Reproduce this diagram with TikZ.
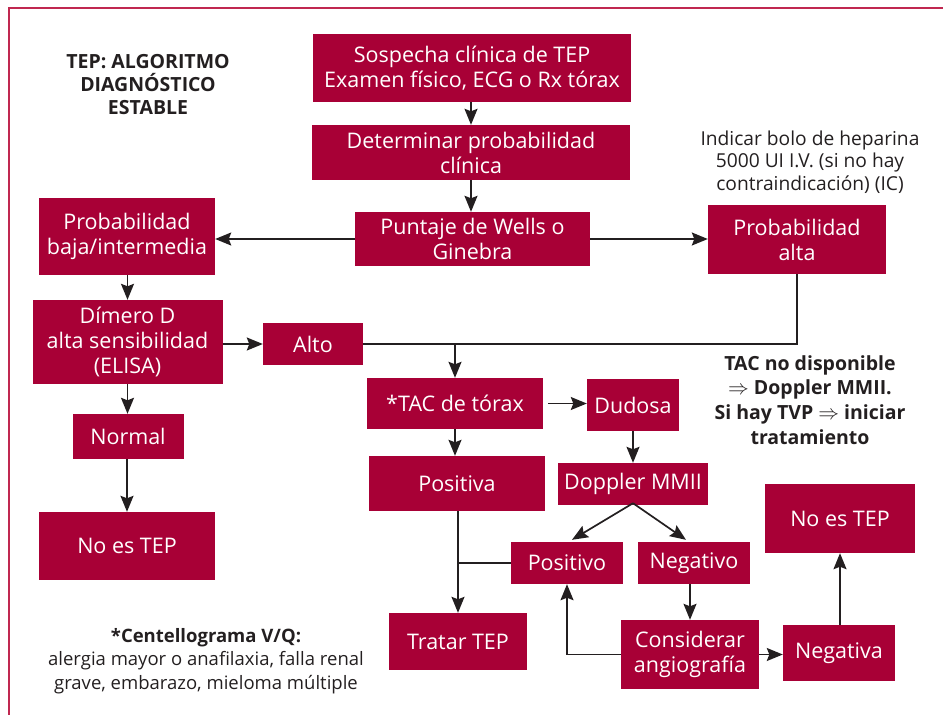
\documentclass[tikz,border=0pt]{standalone}
\usepackage{fontspec}
\setmainfont{Open Sans}
\usepackage{xcolor}
\usetikzlibrary{arrows.meta}

\definecolor{tepred}{RGB}{168,0,54}
\definecolor{tepframe}{RGB}{192,40,80}
\definecolor{tepink}{RGB}{35,31,32}

\newcommand{\boxfont}{\fontsize{21.5}{25}\selectfont}
\newcommand{\notefont}{\fontsize{19.2}{22.5}\selectfont}

\begin{document}
\begin{tikzpicture}[x=1pt, y=-1pt]
    \tikzstyle{stepbox} = [rectangle, fill=tepred, text=white, align=center, inner sep=0pt, font=\boxfont]
    \tikzstyle{note} = [align=center, text=tepink, font=\notefont]
    \tikzstyle{arrow} = [line width=1.7pt, draw=tepink, -{Stealth[length=16pt, width=13pt, inset=2.5pt]}]
    \tikzstyle{link} = [line width=1.7pt, draw=tepink]

    \useasboundingbox (0,0) rectangle (943,715);
    \draw [line width=2pt, tepframe] (9,715) -- (9,8) -- (943,8);

    % textos sueltos
    \node (titulo) [note, font=\fontsize{19.5}{23}\selectfont\bfseries] at (148,85) {TEP: ALGORITMO\\DIAGNÓSTICO\\ESTABLE};
    \node (bolo) [note] at (810,162) {Indicar bolo de heparina\\5000 UI I.V. (si no hay\\contraindicación) (IC)};
    \node (sintac) [note, font=\fontsize{19.5}{24.7}\selectfont\bfseries] at (810,400) {TAC no disponible\\$\Rightarrow$ Doppler MMII.\\Si hay TVP $\Rightarrow$ iniciar\\tratamiento};
    \node (centello) [note, font=\fontsize{18.5}{23.5}\selectfont] at (206,661) {\textbf{*Centellograma V/Q:}\\alergia mayor o anafilaxia, falla renal\\grave, embarazo, mieloma múltiple};

    % cajas
    \node (sospecha) [stepbox, minimum width=318pt, minimum height=68pt] at (472,68) {Sospecha clínica de TEP\\Examen físico, ECG o Rx tórax};
    \node (determinar) [stepbox, minimum width=318pt, minimum height=55pt] at (471,152.5) {Determinar probabilidad\\clínica};
    \node (puntaje) [stepbox, minimum width=235pt, minimum height=54pt] at (472.5,239) {Puntaje de Wells o\\Ginebra};
    \node (baja) [stepbox, minimum width=176pt, minimum height=77pt] at (127,236.5) {Probabilidad\\baja/intermedia};
    \node (alta) [stepbox, minimum width=178pt, minimum height=69pt] at (797,239.5) {Probabilidad\\alta};
    \node (dimero) [stepbox, minimum width=190pt, minimum height=84pt] at (127.5,342) {Dímero D\\alta sensibilidad\\(ELISA)};
    \node (alto) [stepbox, minimum width=100pt, minimum height=42pt] at (313,344) {Alto};
    \node (tac) [stepbox, minimum width=176pt, minimum height=51pt] at (455,403.5) {*TAC de tórax};
    \node (dudosa) [stepbox, minimum width=92pt, minimum height=52pt] at (633,405) {Dudosa};
    \node (normal) [stepbox, minimum width=111pt, minimum height=45pt] at (128,436.5) {Normal};
    \node (positiva) [stepbox, minimum width=176pt, minimum height=55pt] at (457,483.5) {Positiva};
    \node (doppler) [stepbox, minimum width=150pt, minimum height=42pt] at (633,484) {Doppler MMII};
    \node (noes) [stepbox, minimum width=176pt, minimum height=68pt] at (127,546) {No es TEP};
    \node (noesdos) [stepbox, minimum width=150pt, minimum height=69pt] at (840,518.5) {No es TEP};
    \node (positivo) [stepbox, minimum width=112pt, minimum height=42pt] at (567,563) {Positivo};
    \node (negativo) [stepbox, minimum width=112pt, minimum height=42pt] at (694,563) {Negativo};
    \node (tratar) [stepbox, minimum width=138pt, minimum height=57pt] at (458,641.5) {Tratar TEP};
    \node (considerar) [stepbox, minimum width=138pt, minimum height=69pt] at (690,654.5) {Considerar\\angiografía};
    \node (negativa) [stepbox, minimum width=112pt, minimum height=56pt] at (839,653) {Negativa};

    % flechas
    \draw [arrow] (sospecha.south -| determinar.north) -- (determinar.north);
    \draw [arrow] (determinar.south) -- (determinar.south |- puntaje.north);
    \draw [arrow] (puntaje.west) -- (puntaje.west -| baja.east);
    \draw [arrow] (puntaje.east) -- (puntaje.east -| alta.west);
    \draw [arrow] (baja.south -| dimero.north) -- (dimero.north);
    \draw [arrow] (dimero.east |- alto.west) -- (alto.west);
    \draw [link] (alto.east) -| (alta.south);
    \coordinate (cruce) at (tac.north |- alto.east);
    \draw [arrow] (cruce) -- (tac.north);
    \draw [arrow] (dimero.south) -- (dimero.south |- normal.north);
    \draw [arrow] (normal.south -| noes.north) -- (noes.north);
    \draw [arrow, shorten <=5pt] (tac.east) -- (tac.east -| dudosa.west);
    \draw [arrow] (tac.south) -- (tac.south |- positiva.north);
    \draw [arrow] (dudosa) -- (doppler);
    \draw [arrow] (positiva.south -| tratar.north) -- (tratar.north);
    \draw [link] (positivo.west) -- (positivo.west -| tratar.north);
    \coordinate (horquilla) at ([yshift=2pt]doppler.south);
    \draw [arrow] (horquilla) -- ([xshift=5pt, yshift=2pt]positivo.north);
    \draw [arrow] (horquilla) -- ([xshift=-8pt, yshift=2pt]negativo.north);
    \draw [arrow] (considerar.north |- negativo.south) -- (considerar.north);
    \draw [arrow] (considerar.west) -| (positivo.south);
    \draw [arrow] (considerar.east) -- (considerar.east -| negativa.west);
    \draw [arrow] (negativa.north -| noesdos.south) -- (noesdos.south);
\end{tikzpicture}
\end{document}
